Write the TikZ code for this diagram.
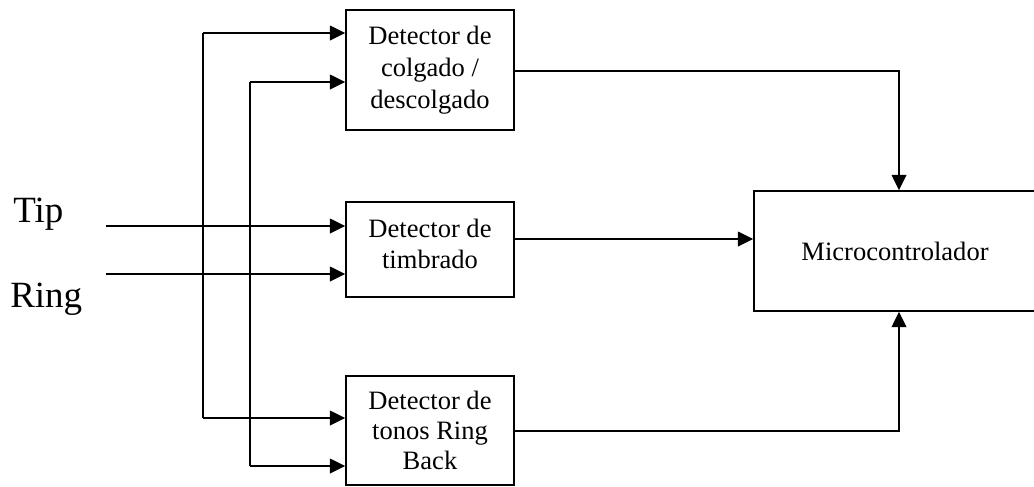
\documentclass[tikz,border=0pt]{standalone}
\usepackage{fontspec}
\setmainfont{Liberation Serif}
\usetikzlibrary{arrows.meta}

\begin{document}
\begin{tikzpicture}[x=0.75pt,y=-0.75pt]
        % Define styles
        \tikzset{
            block/.style={rectangle, draw, line width=1.1pt, inner sep=0pt, minimum width=126pt, align=center},
            label/.style={anchor=base west, inner sep=0pt, font=\fontsize{27.75}{30}\selectfont},
            arrow/.style={-{Triangle[length=11.5pt,width=11pt]}, line width=1.1pt},
            wire/.style={line width=1pt}
        }
        \useasboundingbox (0,0) rectangle (1034,486);

        % Inputs
        \node[label] (tip) at (13,222) {Tip};
        \node[label] (ring) at (10,307) {Ring};
        \coordinate (tip_in) at (106,226);
        \coordinate (ring_in) at (106,274);

        % Detectors
        \node[block, minimum height=90pt, font=\fontsize{19.9}{24}\selectfont] (hook_node) at (430,70) {Detector de\\colgado /\\descolgado};
        \node[block, minimum height=71.25pt, font=\fontsize{19.9}{23}\selectfont] (ring_node) at (430,249.5) {Detector de\\timbrado\rule[-9pt]{0pt}{9pt}};
        \node[block, minimum height=81.75pt, font=\fontsize{19.9}{22.5}\selectfont] (tone_node) at (430,430.5) {Detector de\\tonos Ring\\Back};
        \node[block, minimum width=211.5pt, minimum height=90pt, font=\fontsize{19.9}{24}\selectfont] (mcu_node) at (895,251) {Microcontrolador};

        % Bus corners
        \coordinate (bus_a_top) at (203,33);
        \coordinate (bus_a_bot) at (203,418);
        \coordinate (bus_b_top) at (250,82);
        \coordinate (bus_b_bot) at (250,466);
        \coordinate (hook_out) at (514,71);
        \coordinate (ring_out) at (514,239);
        \coordinate (tone_out) at (514,431);
        \coordinate (mcu_x) at (899,0);

        % Arrows
        \draw[arrow] (tip_in) -- (tip_in -| ring_node.west);
        \draw[arrow] (ring_in) -- (ring_in -| ring_node.west);
        \draw[wire] (bus_a_top) -- (bus_a_bot);
        \draw[wire] (bus_b_top) -- (bus_b_bot);
        \draw[arrow] (bus_a_top) -- (bus_a_top -| hook_node.west);
        \draw[arrow] (bus_b_top) -- (bus_b_top -| hook_node.west);
        \draw[arrow] (bus_a_bot) -- (bus_a_bot -| tone_node.west);
        \draw[arrow] (bus_b_bot) -- (bus_b_bot -| tone_node.west);
        \draw[arrow] (hook_out) -- (hook_out -| mcu_x) -- (mcu_x |- mcu_node.north);
        \draw[arrow] (ring_out) -- (ring_out -| mcu_node.west);
        \draw[arrow] (tone_out) -- (tone_out -| mcu_x) -- (mcu_x |- mcu_node.south);
    \end{tikzpicture}
\end{document}
